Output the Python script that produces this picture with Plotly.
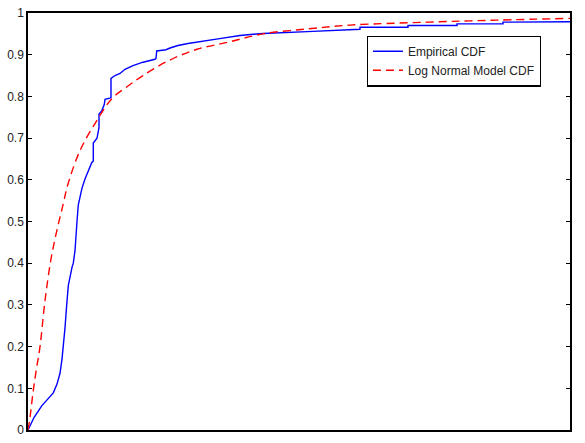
import plotly.graph_objects as go

# Empirical CDF (x in arbitrary units)
emp_x = [0, 6, 13.7, 20, 25.3, 29, 32, 34, 35.3, 37, 38.7, 40.3, 44, 45.3, 47, 47.5, 49, 50.3,
         54, 57, 61, 63.7, 65.3, 65.3, 69, 70.3, 71, 71, 73.7, 76.3, 77, 82, 83, 83, 87, 92, 97,
         105, 115, 127, 128, 128.7, 138, 142, 150, 160, 172, 190, 212, 235, 285, 322, 332, 332,
         380, 380, 429, 429, 475, 475, 542]
emp_y = [0, 0.03, 0.058, 0.075, 0.089, 0.11, 0.136, 0.17, 0.2, 0.245, 0.30, 0.346, 0.39, 0.40,
         0.43, 0.455, 0.5, 0.54, 0.58, 0.602, 0.625, 0.641, 0.645, 0.688, 0.70, 0.719, 0.725,
         0.758, 0.765, 0.781, 0.793, 0.796, 0.797, 0.843, 0.85, 0.855, 0.865, 0.874, 0.882,
         0.889, 0.891, 0.909, 0.912, 0.916, 0.922, 0.927, 0.932, 0.938, 0.946, 0.951, 0.956,
         0.961, 0.961, 0.966, 0.966, 0.970, 0.970, 0.974, 0.974, 0.978, 0.979]

# Log normal model CDF
model_x = [0, 2, 5, 8, 12, 17, 23, 29, 35, 40, 52, 67, 84, 100, 115, 140, 169, 200, 235,
           280, 322, 400, 470, 542]
model_y = [0, 0.03, 0.09, 0.14, 0.2, 0.31, 0.41, 0.48, 0.54, 0.59, 0.67, 0.735, 0.795, 0.825,
           0.85, 0.885, 0.913, 0.93, 0.95, 0.962, 0.971, 0.978, 0.983, 0.987]

y_ticks = [0, 0.1, 0.2, 0.3, 0.4, 0.5, 0.6, 0.7, 0.8, 0.9, 1]
y_tick_labels = ["0", "0.1", "0.2", "0.3", "0.4", "0.5", "0.6", "0.7", "0.8", "0.9", "1"]

fig = go.Figure()
fig.add_trace(go.Scatter(x=emp_x, y=emp_y, mode="lines", name="Empirical CDF",
                         line=dict(color="#0000ff", width=1.4)))
fig.add_trace(go.Scatter(x=model_x, y=model_y, mode="lines", name="Log Normal Model CDF",
                         line=dict(color="#ff0000", width=1.4, dash="8px,5px", shape="spline")))

fig.update_layout(
    width=585, height=443,
    margin=dict(l=28, r=15, t=6, b=8),
    paper_bgcolor="white", plot_bgcolor="white",
    font=dict(family="Liberation Sans, Arial, sans-serif", size=12, color="#222"),
    showlegend=True,
    legend=dict(x=0.625, y=0.946, xanchor="left", yanchor="top",
                bordercolor="black", borderwidth=1.2, bgcolor="white",
                font=dict(size=12), tracegroupgap=0),
    xaxis=dict(range=[0, 542], showticklabels=False, ticks="", showgrid=False, zeroline=False,
               showline=True, linecolor="black", linewidth=1.5, mirror=True),
    yaxis=dict(range=[0, 1], tickvals=y_ticks, ticktext=y_tick_labels, ticks="inside",
               ticklen=4, tickcolor="black", showgrid=False, zeroline=False,
               showline=True, linecolor="black", linewidth=1.5, mirror="ticks",
               tickfont=dict(size=12)),
)

fig.write_html("out.html")
